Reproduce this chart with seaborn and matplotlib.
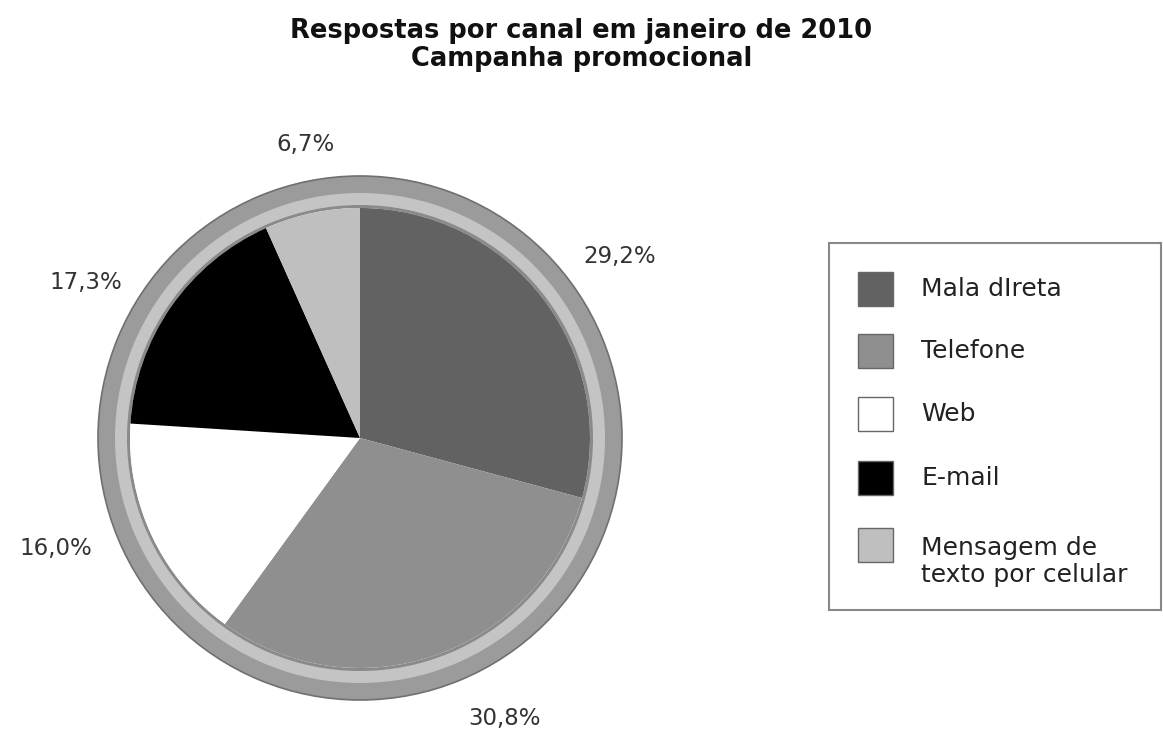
import matplotlib
matplotlib.use("Agg")
import matplotlib.pyplot as plt
import seaborn as sns
from matplotlib.patches import Rectangle

sns.set_theme(style="white")
plt.rcParams['font.family'] = ['DejaVu Sans']

# Data
categories = ["Mala dIreta", "Telefone", "Web", "E-mail", "Mensagem de\ntexto por celular"]
values = [29.2, 30.8, 16.0, 17.3, 6.7]
value_labels = ["29,2%", "30,8%", "16,0%", "17,3%", "6,7%"]
colors = ["#626262", "#8f8f8f", "#ffffff", "#000000", "#bfbfbf"]

title = "Respostas por canal em janeiro de 2010\nCampanha promocional"

W, H = 1163, 730
fig = plt.figure(figsize=(W / 100, H / 100), dpi=100)
fig.patch.set_facecolor("white")
ax = fig.add_axes([0, 0, 1, 1])

cx, cy = 360, H - 438
r_pie = 230

# outer ring
ax.pie([1], radius=262, center=(cx, cy), colors=["#9b9b9b"], frame=True,
       wedgeprops=dict(width=30, edgecolor="#707070", linewidth=1.2))
ax.pie([1], radius=245, center=(cx, cy), colors=["#c4c4c4"], frame=True,
       wedgeprops=dict(width=13, edgecolor="none"))
ax.pie([1], radius=233, center=(cx, cy), colors=["#8a8a8a"], frame=True,
       wedgeprops=dict(width=3, edgecolor="none"))

# pie
ax.pie(values, radius=r_pie, center=(cx, cy), colors=colors, startangle=90,
       counterclock=False, frame=True, wedgeprops=dict(edgecolor="none"))

# value labels (layout positions in pixels)
label_pos = [(620, 256), (505, 718), (56, 548), (86, 283), (305, 145)]
for txt, (px, py) in zip(value_labels, label_pos):
    ax.text(px, H - py, txt, ha="center", va="center", fontsize=16.5, color="#333333")

ax.set_xlim(0, W)
ax.set_ylim(0, H)
ax.set_aspect("equal")
ax.axis("off")

# title
fig.text(0.5, 1 - 45 / H, title, ha="center", va="center", fontsize=18.5,
         fontweight="bold", linespacing=1.15, color="#111111")

# legend (manual, figure pixel layout)
def fx(x):
    return x / W

def fy(y):
    return 1 - y / H

frame = Rectangle((fx(829), fy(610)), fx(1161) - fx(829), fy(243) - fy(610),
                  transform=fig.transFigure, facecolor="white", edgecolor="#888888",
                  linewidth=1.5)
fig.add_artist(frame)
row_y = [289, 351, 414, 478, 545]
for lab, col, yy in zip(categories, colors, row_y):
    sq = Rectangle((fx(858), fy(yy + 17)), fx(893) - fx(858), fy(yy - 17) - fy(yy + 17),
                   transform=fig.transFigure, facecolor=col, edgecolor="#666666",
                   linewidth=1.0)
    fig.add_artist(sq)
    ty = yy + 16.5 if "\n" in lab else yy
    fig.text(fx(921), fy(ty), lab, ha="left", va="center",
             fontsize=18, color="#222222", linespacing=1.15)

fig.savefig("out.png", dpi=100, facecolor="white")
